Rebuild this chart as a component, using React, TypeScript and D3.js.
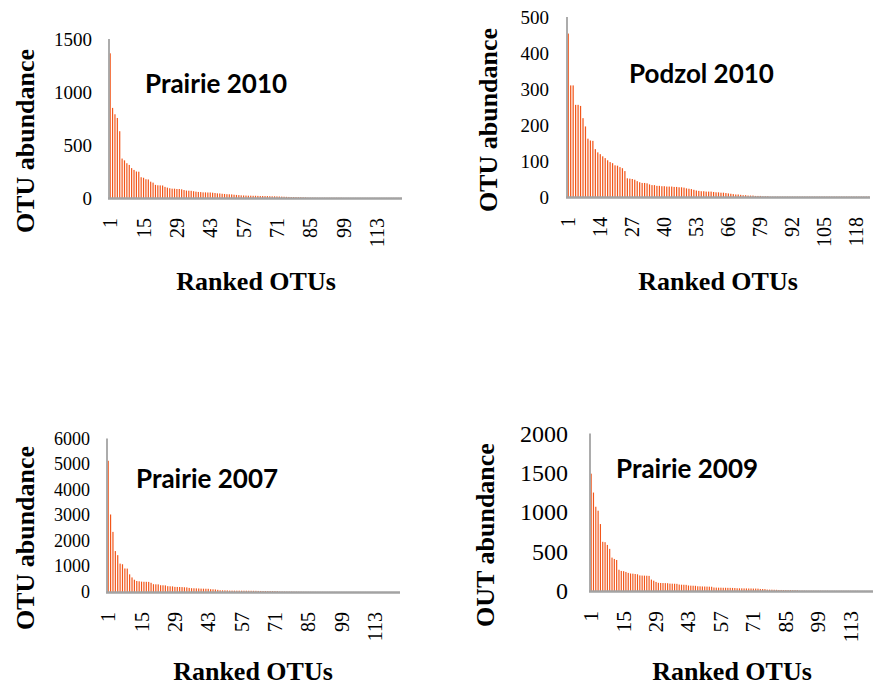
import React from 'react';
import * as d3 from 'd3';

// rank-abundance values (123 ranked OTUs per sample)
const prairie2010 = [
  1365, 850, 790, 755, 630, 372, 355, 328, 312, 282, 265, 250, 248, 196, 191, 177, 175, 154, 145, 124,
  120, 119, 118, 105, 98, 92, 88, 88, 85, 85, 82, 75, 70, 69, 68, 64, 60, 57, 56, 53,
  53, 52, 52, 50, 47, 44, 43, 40, 38, 36, 35, 34, 31, 29, 27, 25, 24, 23, 22, 22,
  21, 21, 20, 19, 19, 18, 18, 17, 16, 16, 15, 14, 13, 12, 11, 10, 9, 9, 8, 7,
  7, 6, 5, 3, 3, 3, 3, 2, 2, 2, 2, 2, 2, 2, 2, 2, 2, 2, 1, 1,
  1, 1, 1, 1, 1, 1, 1, 1, 1, 1, 1, 1, 1, 1, 1, 1, 1, 1, 1, 1,
  1, 1, 1,
];

const podzol2010 = [
  454, 310, 310, 256, 256, 253, 219, 196, 162, 157, 156, 133, 124, 119, 113, 108, 102, 97, 94, 88,
  87, 83, 80, 72, 52, 51, 50, 48, 44, 41, 39, 39, 38, 35, 33, 33, 31, 31, 30, 30,
  29, 29, 29, 28, 28, 27, 27, 26, 24, 23, 22, 20, 18, 17, 16, 16, 15, 15, 15, 14,
  13, 13, 12, 12, 11, 10, 9, 8, 7, 7, 6, 5, 5, 4, 4, 4, 3, 3, 3, 2,
  2, 2, 1, 1, 1, 1, 1, 1, 1, 1, 1, 1, 1, 1, 1, 1, 1, 1, 1, 1,
  1, 1, 1, 1, 1, 1, 1, 1, 1, 1, 1, 1, 1, 1, 1, 1, 1, 1, 1, 1,
  1, 1, 1,
];

const prairie2007 = [
  5130, 3030, 2350, 1600, 1440, 1110, 1085, 920, 915, 690, 570, 480, 430, 418, 405, 400, 398, 395, 360, 305,
  300, 298, 265, 262, 258, 228, 222, 220, 200, 198, 195, 192, 185, 180, 160, 148, 145, 142, 138, 132,
  130, 128, 126, 110, 105, 100, 85, 68, 66, 65, 63, 55, 54, 53, 52, 52, 51, 50, 50, 49,
  48, 47, 46, 42, 40, 39, 38, 37, 36, 35, 34, 32, 18, 16, 15, 14, 13, 12, 11, 10,
  9, 8, 6, 6, 5, 5, 5, 4, 4, 4, 4, 3, 3, 3, 3, 3, 3, 2, 2, 2,
  2, 2, 2, 2, 2, 2, 2, 2, 2, 2, 2, 2, 1, 1, 1, 1, 1, 1, 1, 1,
  1, 1, 1,
];

const prairie2009 = [
  1490, 1250, 1070, 1020, 850, 625, 620, 585, 535, 424, 407, 394, 270, 255, 252, 242, 230, 222, 220, 216,
  212, 198, 196, 195, 194, 192, 145, 131, 115, 104, 102, 101, 100, 99, 94, 93, 92, 91, 82, 80,
  79, 78, 70, 68, 67, 66, 60, 59, 58, 57, 56, 55, 54, 44, 43, 42, 42, 41, 41, 40,
  40, 39, 38, 35, 34, 34, 33, 33, 32, 32, 31, 31, 30, 26, 25, 24, 18, 17, 17, 16,
  15, 13, 13, 12, 12, 11, 11, 10, 10, 9, 4, 4, 4, 3, 3, 3, 3, 3, 3, 3,
  3, 3, 3, 2, 2, 2, 2, 2, 2, 2, 2, 2, 2, 2, 2, 2, 1, 1, 1, 1,
  1, 1, 1,
];

const ticksEvery14 = [1, 15, 29, 43, 57, 71, 85, 99, 113];
const ticksEvery13 = [1, 14, 27, 40, 53, 66, 79, 92, 105, 118];

const panels = [
  {
    title: 'Prairie 2010', values: prairie2010, yMax: 1500, yTicks: [0, 500, 1000, 1500],
    xTicks: ticksEvery14, yTitle: 'OTU abundance',
    left: 109, right: 402, top: 39, bottom: 198, yLabelX: 92, yFont: 19, xFont: 20,
    titleX: 145, titleY: 93, yTitleX: 34, yTitleY: 141, xTitleX: 256, xTitleY: 290,
  },
  {
    title: 'Podzol 2010', values: podzol2010, yMax: 500, yTicks: [0, 100, 200, 300, 400, 500],
    xTicks: ticksEvery13, yTitle: 'OTU abundance',
    left: 567, right: 870, top: 17, bottom: 197, yLabelX: 549, yFont: 19, xFont: 20,
    titleX: 629, titleY: 83, yTitleX: 497, yTitleY: 120, xTitleX: 718, xTitleY: 290,
  },
  {
    title: 'Prairie 2007', values: prairie2007, yMax: 6000, yTicks: [0, 1000, 2000, 3000, 4000, 5000, 6000],
    xTicks: ticksEvery14, yTitle: 'OTU abundance',
    left: 107, right: 400, top: 438.5, bottom: 592, yLabelX: 90, yFont: 18, xFont: 20,
    titleX: 136, titleY: 488, yTitleX: 34, yTitleY: 538, xTitleX: 253, xTitleY: 680,
  },
  {
    title: 'Prairie 2009', values: prairie2009, yMax: 2000, yTicks: [0, 500, 1000, 1500, 2000],
    xTicks: ticksEvery14, yTitle: 'OUT abundance',
    left: 590, right: 875, top: 433.5, bottom: 591, yLabelX: 568, yFont: 24, xFont: 21.5,
    titleX: 616, titleY: 478, yTitleX: 494, yTitleY: 535, xTitleX: 732, xTitleY: 680,
  },
];

const serif = '"Liberation Serif", "Times New Roman", serif';

const Panel = ({ p }) => {
  const ranks = p.values.map((_, i) => i + 1);
  const x = d3.scaleBand().domain(ranks).range([p.left, p.right]);
  const y = d3.scaleLinear().domain([0, p.yMax]).range([p.bottom, p.top]);
  const bw = x.bandwidth();

  return (
    <g>
      {p.values.map((v, i) => (
        <rect key={i} x={x(i + 1) + bw * 0.25} width={bw * 0.5}
          y={y(v)} height={y(0) - y(v)} fill="#f2561a" />
      ))}
      {/* axis lines */}
      <line x1={p.left} x2={p.left} y1={p.top} y2={p.bottom} stroke="#a3a3a3" strokeWidth={1.8} />
      <line x1={p.left - 1} x2={p.right} y1={p.bottom + 0.5} y2={p.bottom + 0.5} stroke="#a3a3a3" strokeWidth={2.4} />

      {p.yTicks.map(t => (
        <text key={t} x={p.yLabelX} y={y(t)} textAnchor="end" dominantBaseline="central"
          fontFamily={serif} fontSize={p.yFont} fill="#000">{t}</text>
      ))}
      {p.xTicks.map(t => (
        <text key={t} transform={`translate(${x(t) + bw / 2},${p.bottom + 20}) rotate(-90)`}
          textAnchor="end" dominantBaseline="central"
          fontFamily={serif} fontSize={p.xFont} fill="#000">{t}</text>
      ))}

      <text x={p.titleX} y={p.titleY} fontFamily="Lato, 'Open Sans', sans-serif" fontWeight="bold"
        fontSize={26} fill="#000">{p.title}</text>
      <text transform={`translate(${p.yTitleX},${p.yTitleY}) rotate(-90)`} textAnchor="middle"
        fontFamily={serif} fontWeight="bold" fontSize={26} fill="#000">{p.yTitle}</text>
      <text x={p.xTitleX} y={p.xTitleY} textAnchor="middle"
        fontFamily={serif} fontWeight="bold" fontSize={26} fill="#000">Ranked OTUs</text>
    </g>
  );
};

export default function App() {
  return (
    <svg width={873} height={686} style={{ position: 'absolute', left: 0, top: 0, background: '#fff' }}>
      <rect width={873} height={686} fill="#fff" />
      {panels.map(p => <Panel key={p.title} p={p} />)}
    </svg>
  );
}
